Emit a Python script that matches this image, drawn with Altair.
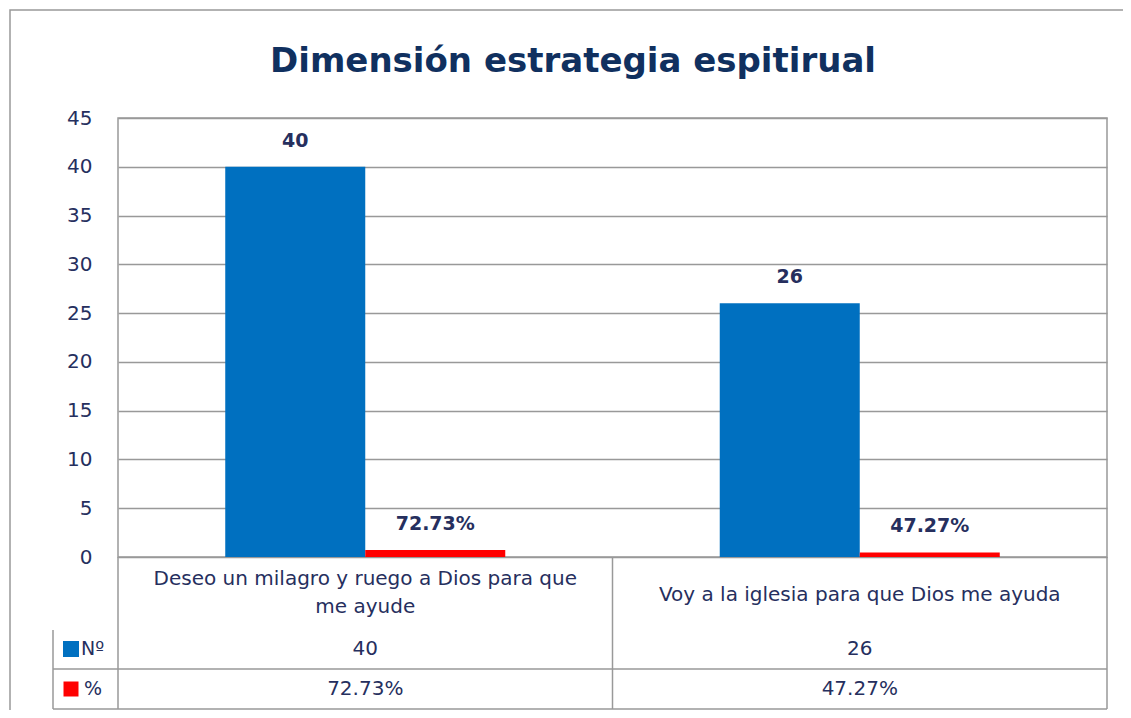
import altair as alt
import pandas as pd

# ---- data ----
categories = [
    "Deseo un milagro y ruego a Dios para que me ayude",
    "Voy a la iglesia para que Dios me ayuda",
]
category_lines = [
    "Deseo un milagro y ruego a Dios para que\nme ayude",
    "Voy a la iglesia para que Dios me ayuda",
]
series = ["Nº", "%"]
counts = [40, 26]
percents = [0.7273, 0.4727]          # plotted as fractions (as in the original)
pct_labels = ["72.73%", "47.27%"]
count_labels = ["40", "26"]
y_ticks = [0, 5, 10, 15, 20, 25, 30, 35, 40, 45]
title_text = "Dimensión estrategia espitirual"

BLUE = "#0070C0"
RED = "#FF0000"
TXT = "#262f5e"
NAVY = "#10305f"
LINE = "#999999"
FONT = "DejaVu Sans"

W, H = 989, 439
TB = 591  # table bottom (plot coords)

bars_df = pd.DataFrame({
    "cat": categories * 2,
    "series": [series[0]] * 2 + [series[1]] * 2,
    "value": counts + percents,
    "label": count_labels + pct_labels,
})
table_df = pd.DataFrame({
    "cat": categories,
    "catlabel": category_lines,
    "n": count_labels,
    "pct": pct_labels,
})

x_enc = alt.X("cat:N", sort=categories, axis=None,
              scale=alt.Scale(paddingInner=0, paddingOuter=0))
xo_enc = alt.XOffset("series:N", sort=series,
                     scale=alt.Scale(paddingInner=0, paddingOuter=0.766))
y_enc = alt.Y("value:Q", scale=alt.Scale(domain=[0, 45], nice=False),
              axis=alt.Axis(values=y_ticks, title=None, ticks=False, domain=False,
                            labelPadding=26, labelFontSize=20, labelFont=FONT,
                            labelColor=TXT, gridColor=LINE, gridWidth=1.5))
color_enc = alt.Color("series:N", sort=series,
                      scale=alt.Scale(domain=series, range=[BLUE, RED]), legend=None)

one = pd.DataFrame({"k": [0]})

frame = alt.Chart(one).mark_rect(fillOpacity=0, stroke=LINE, strokeWidth=1.5).encode(
    x=alt.value(-108), x2=alt.value(1020), y=alt.value(-108), y2=alt.value(620))

title = alt.Chart(one).mark_text(font=FONT, fontSize=34, fontWeight="bold",
                                 color=NAVY, baseline="middle").encode(
    x=alt.value(455), y=alt.value(-56), text=alt.value(title_text))

bars = alt.Chart(bars_df).mark_bar().encode(
    x=x_enc, xOffset=xo_enc, y=y_enc, color=color_enc)

bar_labels = alt.Chart(bars_df).mark_text(
    font=FONT, fontSize=19, fontWeight="bold", color=TXT, baseline="bottom", dy=-16
).encode(x=x_enc, xOffset=xo_enc, y=alt.Y("value:Q"), text="label:N")

cat_base = alt.Chart(table_df).transform_calculate(
    nlines="length(split(datum.catlabel, '\\n'))")
cat_text2 = cat_base.mark_text(
    font=FONT, fontSize=20, color=TXT, baseline="middle", lineBreak="\n", lineHeight=28
).encode(x=x_enc, y=alt.value(461), text="catlabel:N"
).transform_filter("datum.nlines > 1")
cat_text1 = cat_base.mark_text(
    font=FONT, fontSize=20, color=TXT, baseline="middle"
).encode(x=x_enc, y=alt.value(477), text="catlabel:N"
).transform_filter("datum.nlines == 1")

n_text = alt.Chart(table_df).mark_text(
    font=FONT, fontSize=20, color=TXT, baseline="middle"
).encode(x=x_enc, y=alt.value(531), text="n:N")

pct_text = alt.Chart(table_df).mark_text(
    font=FONT, fontSize=20, color=TXT, baseline="middle"
).encode(x=x_enc, y=alt.value(571), text="pct:N")

vlines = alt.Chart(table_df).mark_rule(color=LINE, strokeWidth=1.5).encode(
    x=alt.X("cat:N", sort=categories, bandPosition=0),
    y=alt.value(H), y2=alt.value(TB))
vline_right = alt.Chart(one).mark_rule(color=LINE, strokeWidth=1.5).encode(
    x=alt.value(W), y=alt.value(H), y2=alt.value(TB))
vline_left = alt.Chart(one).mark_rule(color=LINE, strokeWidth=1.5).encode(
    x=alt.value(-65), y=alt.value(512), y2=alt.value(TB))
hline_mid = alt.Chart(one).mark_rule(color=LINE, strokeWidth=1.5).encode(
    x=alt.value(-65), x2=alt.value(W), y=alt.value(551))
hline_bot = alt.Chart(one).mark_rule(color=LINE, strokeWidth=1.5).encode(
    x=alt.value(-65), x2=alt.value(W), y=alt.value(TB))

leg_df = pd.DataFrame({"series": series})
leg_sq_n = alt.Chart(leg_df).mark_square(size=256, opacity=1).encode(
    x=alt.value(-47), y=alt.value(531), color=color_enc
).transform_filter(alt.datum.series == series[0])
leg_sq_p = alt.Chart(leg_df).mark_square(size=225, opacity=1).encode(
    x=alt.value(-47), y=alt.value(571), color=color_enc
).transform_filter(alt.datum.series == series[1])
leg_t_n = alt.Chart(leg_df).mark_text(font=FONT, fontSize=19, color=TXT, align="left",
                                      baseline="middle").encode(
    x=alt.value(-37), y=alt.value(531), text="series:N"
).transform_filter(alt.datum.series == series[0])
leg_t_p = alt.Chart(leg_df).mark_text(font=FONT, fontSize=19, color=TXT, align="left",
                                      baseline="middle").encode(
    x=alt.value(-34), y=alt.value(571), text="series:N"
).transform_filter(alt.datum.series == series[1])

chart = alt.layer(
    frame, bars, bar_labels, title, cat_text2, cat_text1, n_text, pct_text,
    vlines, vline_right, vline_left, hline_mid, hline_bot,
    leg_sq_n, leg_sq_p, leg_t_n, leg_t_p,
).properties(
    width=W, height=H,
    autosize=alt.AutoSizeParams(type="none"),
    padding={"left": 110, "top": 110, "right": 16, "bottom": 153},
    background="white",
).configure_view(stroke=LINE, strokeWidth=1.5)

chart.save("out.html", embed_options={"renderer": "svg", "actions": False})
